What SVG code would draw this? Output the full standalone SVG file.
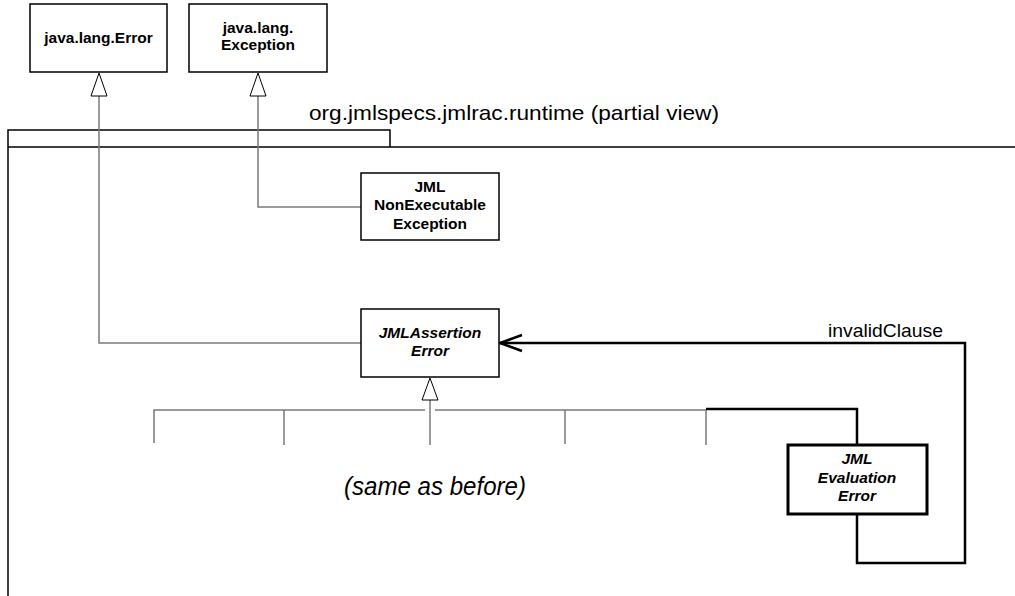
<svg xmlns="http://www.w3.org/2000/svg" width="1015" height="596" viewBox="0 0 1015 596">
<style>
.box{fill:#fff;stroke:#000;stroke-width:1.5}
.thick{fill:#fff;stroke:#000;stroke-width:3}
.lbl{font-family:"Liberation Sans",Arial,sans-serif;font-size:15.5px;font-weight:bold;text-anchor:middle;fill:#000}
.it{font-style:italic}
.conn{fill:none;stroke:#7a7a7a;stroke-width:1.5}
.bold{fill:none;stroke:#000;stroke-width:2.5}
.pkg{fill:none;stroke:#000;stroke-width:1.5}
.tri{fill:#fff;stroke:#000;stroke-width:1}
.txt{font-family:"Liberation Sans",Arial,sans-serif;fill:#000}
</style>
<rect width="1015" height="596" fill="#fff"/>
<g id="package">
<path class="pkg" d="M8,596 V130 H390 V147"/>
<path class="pkg" d="M8,147 H1015"/>
<text class="txt" x="309" y="120" font-size="21" textLength="410" lengthAdjust="spacingAndGlyphs">org.jmlspecs.jmlrac.runtime (partial view)</text>
</g>
<g id="connectors">
<path class="conn" d="M99,96 V343 H361"/>
<polygon class="tri" points="99,73 91,96 107,96"/>
<path class="conn" d="M258,96 V207 H361"/>
<polygon class="tri" points="258,73 250,96 266,96"/>
<path class="conn" d="M430,400 V445"/>
<polygon class="tri" points="430,378 422,400 438,400"/>
<path class="conn" d="M154,443 V410 H425 M435,410 H706"/>
<path class="conn" d="M284,410 V445 M565,410 V444 M706,410 V445"/>
<path class="bold" d="M706,409 H857 V445"/>
<path class="bold" d="M857,514 V563 H965 V343 H500"/>
<path class="bold" d="M522,335 L500,343 L522,351"/>
<text class="txt" x="828" y="337" font-size="19" textLength="115" lengthAdjust="spacingAndGlyphs">invalidClause</text>
</g>
<g id="javaLangError">
<rect class="box" x="30" y="4" width="137" height="68"/>
<text class="lbl" x="98.5" y="43">java.lang.Error</text>
</g>
<g id="javaLangException">
<rect class="box" x="189" y="4" width="138" height="68"/>
<text class="lbl" x="258" y="33">java.lang.</text>
<text class="lbl" x="258" y="50">Exception</text>
</g>
<g id="jmlNonExecutableException">
<rect class="box" x="361" y="173" width="138" height="67"/>
<text class="lbl" x="430" y="192">JML</text>
<text class="lbl" x="430" y="210">NonExecutable</text>
<text class="lbl" x="430" y="229">Exception</text>
</g>
<g id="jmlAssertionError">
<rect class="box" x="361" y="309" width="138" height="68"/>
<text class="lbl it" x="430" y="338">JMLAssertion</text>
<text class="lbl it" x="430" y="356">Error</text>
</g>
<g id="jmlEvaluationError">
<rect class="thick" x="788" y="445" width="139" height="69"/>
<text class="lbl it" x="857" y="464">JML</text>
<text class="lbl it" x="857" y="483">Evaluation</text>
<text class="lbl it" x="857" y="501">Error</text>
</g>
<text class="txt it" x="344" y="495" font-size="25" font-style="italic" textLength="182" lengthAdjust="spacingAndGlyphs">(same as before)</text>
</svg>
